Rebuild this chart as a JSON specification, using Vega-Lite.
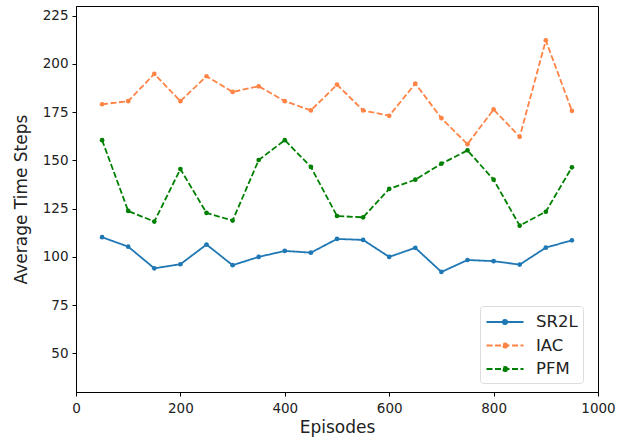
{
  "$schema": "https://vega.github.io/schema/vega-lite/v6.json",
  "width": 522,
  "height": 386,
  "autosize": "none",
  "padding": {"left": 76, "top": 6, "right": 25, "bottom": 51},
  "config": {
    "font": "DejaVu Sans",
    "view": {"stroke": "black", "strokeWidth": 1},
    "axis": {"grid": false, "domainColor": "black", "tickColor": "black", "labelColor": "#222", "labelFontSize": 13.5, "titleFontSize": 17, "titleFontWeight": "normal", "titleColor": "#222", "tickSize": 4, "labelFlush": false}
  },
  "data": {
    "values": [
      {"ep": 50, "s": "SR2L", "v": 110.2}, {"ep": 100, "s": "SR2L", "v": 105.3}, {"ep": 150, "s": "SR2L", "v": 94.1}, {"ep": 200, "s": "SR2L", "v": 96.2}, {"ep": 250, "s": "SR2L", "v": 106.4}, {"ep": 300, "s": "SR2L", "v": 95.7}, {"ep": 350, "s": "SR2L", "v": 100.0}, {"ep": 400, "s": "SR2L", "v": 103.1}, {"ep": 450, "s": "SR2L", "v": 102.2}, {"ep": 500, "s": "SR2L", "v": 109.3}, {"ep": 550, "s": "SR2L", "v": 108.8}, {"ep": 600, "s": "SR2L", "v": 100.0}, {"ep": 650, "s": "SR2L", "v": 104.7}, {"ep": 700, "s": "SR2L", "v": 92.2}, {"ep": 750, "s": "SR2L", "v": 98.4}, {"ep": 800, "s": "SR2L", "v": 97.8}, {"ep": 850, "s": "SR2L", "v": 96.0}, {"ep": 900, "s": "SR2L", "v": 104.8}, {"ep": 950, "s": "SR2L", "v": 108.6},
      {"ep": 50, "s": "IAC", "v": 179.1}, {"ep": 100, "s": "IAC", "v": 180.7}, {"ep": 150, "s": "IAC", "v": 194.8}, {"ep": 200, "s": "IAC", "v": 180.7}, {"ep": 250, "s": "IAC", "v": 193.6}, {"ep": 300, "s": "IAC", "v": 185.5}, {"ep": 350, "s": "IAC", "v": 188.4}, {"ep": 400, "s": "IAC", "v": 180.7}, {"ep": 450, "s": "IAC", "v": 175.9}, {"ep": 500, "s": "IAC", "v": 189.3}, {"ep": 550, "s": "IAC", "v": 175.9}, {"ep": 600, "s": "IAC", "v": 173.1}, {"ep": 650, "s": "IAC", "v": 189.8}, {"ep": 700, "s": "IAC", "v": 171.9}, {"ep": 750, "s": "IAC", "v": 158.4}, {"ep": 800, "s": "IAC", "v": 176.4}, {"ep": 850, "s": "IAC", "v": 162.2}, {"ep": 900, "s": "IAC", "v": 212.2}, {"ep": 950, "s": "IAC", "v": 175.7},
      {"ep": 50, "s": "PFM", "v": 160.5}, {"ep": 100, "s": "PFM", "v": 123.8}, {"ep": 150, "s": "PFM", "v": 118.3}, {"ep": 200, "s": "PFM", "v": 145.5}, {"ep": 250, "s": "PFM", "v": 122.8}, {"ep": 300, "s": "PFM", "v": 118.8}, {"ep": 350, "s": "PFM", "v": 150.2}, {"ep": 400, "s": "PFM", "v": 160.5}, {"ep": 450, "s": "PFM", "v": 146.6}, {"ep": 500, "s": "PFM", "v": 121.2}, {"ep": 550, "s": "PFM", "v": 120.5}, {"ep": 600, "s": "PFM", "v": 135.2}, {"ep": 650, "s": "PFM", "v": 140.0}, {"ep": 700, "s": "PFM", "v": 148.3}, {"ep": 750, "s": "PFM", "v": 155.2}, {"ep": 800, "s": "PFM", "v": 140.0}, {"ep": 850, "s": "PFM", "v": 116.2}, {"ep": 900, "s": "PFM", "v": 123.4}, {"ep": 950, "s": "PFM", "v": 146.4}
    ]
  },
  "encoding": {
    "x": {"field": "ep", "type": "quantitative", "title": "Episodes", "scale": {"domain": [0, 1000], "nice": false}, "axis": {"values": [0, 200, 400, 600, 800, 1000], "format": "d", "titlePadding": 5, "labelPadding": 5}},
    "y": {"field": "v", "type": "quantitative", "title": "Average Time Steps", "scale": {"domain": [30, 230], "nice": false, "zero": false}, "axis": {"values": [50, 75, 100, 125, 150, 175, 200, 225], "titlePadding": 12, "labelPadding": 4}},
    "color": {"field": "s", "type": "nominal", "sort": ["SR2L", "IAC", "PFM"], "scale": {"domain": ["SR2L", "IAC", "PFM"], "range": ["#1f77b4", "#ff8345", "#008000"]},
      "legend": {"title": null, "orient": "none", "legendX": 404, "legendY": 300, "labelFontSize": 16.5, "labelColor": "#222", "symbolType": "M-1.85,0L1.85,0M0.22,0A0.22,0.22,0,1,1,-0.22,0A0.22,0.22,0,1,1,0.22,0", "symbolSize": 400, "symbolStrokeWidth": 1.8, "symbolOffset": 9, "rowPadding": 3.5, "padding": 5, "strokeColor": "#ddd", "fillColor": "white", "cornerRadius": 3, "labelOffset": 20}},
    "strokeDash": {"field": "s", "type": "nominal", "sort": ["SR2L", "IAC", "PFM"], "scale": {"domain": ["SR2L", "IAC", "PFM"], "range": [[1, 0], [6, 2.5], [6, 2.5]]}, "legend": null}
  },
  "mark": {"type": "line", "strokeWidth": 1.8, "point": {"filled": true, "size": 22, "strokeDash": [1, 0]}}
}
